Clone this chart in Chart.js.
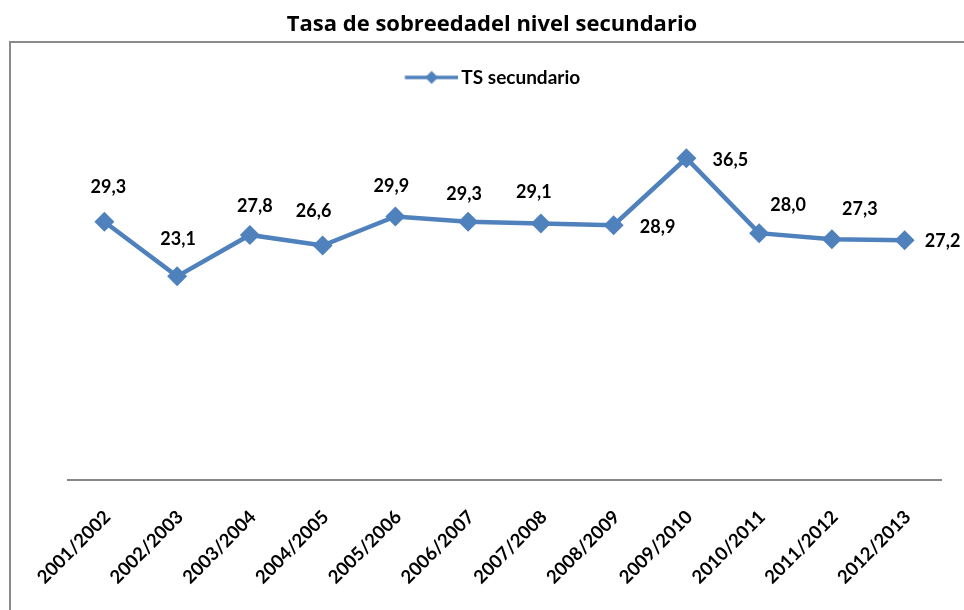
<!DOCTYPE html>
<html>
<head>
<meta charset="utf-8">
<script src="https://cdn.jsdelivr.net/npm/chart.js@4/dist/chart.umd.min.js"></script>
<style>
  html, body { margin: 0; padding: 0; background: #fff; }
  #wrap { width: 964px; height: 610px; position: relative; }
</style>
</head>
<body>
<div id="wrap"><canvas id="c" width="964" height="610"></canvas></div>
<script>
const chartTitle = 'Tasa de sobreedadel nivel secundario';
const seriesName = 'TS secundario';
const categories = ['2001/2002', '2002/2003', '2003/2004', '2004/2005', '2005/2006', '2006/2007',
                    '2007/2008', '2008/2009', '2009/2010', '2010/2011', '2011/2012', '2012/2013'];
const tsSecundario = [29.3, 23.1, 27.8, 26.6, 29.9, 29.3, 29.1, 28.9, 36.5, 28.0, 27.3, 27.2];

const BLUE = '#4F81BD';
const FONT = 'Lato, "Open Sans", sans-serif';
const TITLE_FONT = '"Open Sans", Lato, sans-serif';

// label placement (dx, dy) relative to each point, as in the original
const labelShift = [[4,-35],[1,-37],[5,-29],[-9,-34],[-4,-30],[-4,-28],[-7,-31],[44,2],[44,2],[29,-28],[28,-30],[38,1]];

// legend symbol: line with diamond marker
function legendSymbol() {
  const c = document.createElement('canvas');
  c.width = 61; c.height = 16;
  const g = c.getContext('2d');
  g.strokeStyle = BLUE; g.lineWidth = 3.5;
  g.beginPath(); g.moveTo(7.5, 8); g.lineTo(61, 8); g.stroke();
  const cx = 34.25, cy = 8, r = 6.5;
  g.fillStyle = BLUE;
  g.beginPath(); g.moveTo(cx, cy - r); g.lineTo(cx + r, cy); g.lineTo(cx, cy + r); g.lineTo(cx - r, cy); g.closePath(); g.fill();
  return c;
}
const symbol = legendSymbol();

const framePlugin = {
  id: 'frame',
  beforeDraw(chart) {
    const ctx = chart.ctx;
    ctx.save();
    ctx.strokeStyle = '#8a8a8a';
    ctx.lineWidth = 2;
    ctx.beginPath();
    ctx.moveTo(10, 612); ctx.lineTo(10, 42); ctx.lineTo(966, 42);
    ctx.stroke();
    ctx.restore();
  }
};

const valueLabels = {
  id: 'valueLabels',
  afterDatasetsDraw(chart) {
    const ctx = chart.ctx;
    const meta = chart.getDatasetMeta(0);
    const data = chart.data.datasets[0].data;
    ctx.save();
    ctx.font = 'bold 18px ' + FONT;
    ctx.fillStyle = '#000';
    ctx.textAlign = 'center';
    ctx.textBaseline = 'middle';
    meta.data.forEach((pt, i) => {
      const s = labelShift[i] || [0, -30];
      ctx.fillText(data[i].toFixed(1).replace('.', ','), pt.x + s[0], pt.y + s[1]);
    });
    ctx.restore();
  }
};

new Chart(document.getElementById('c'), {
  type: 'line',
  data: {
    labels: categories,
    datasets: [{
      label: seriesName,
      data: tsSecundario,
      borderColor: BLUE,
      backgroundColor: BLUE,
      borderWidth: 4.5,
      pointStyle: 'rectRot',
      pointRadius: 10,
      pointHoverRadius: 10,
      pointBorderWidth: 0,
      pointBackgroundColor: BLUE,
      tension: 0,
      fill: false
    }]
  },
  options: {
    responsive: false,
    animation: false,
    events: [],
    layout: { padding: { left: 20, right: 0, top: 0, bottom: 0 } },
    plugins: {
      title: {
        display: true,
        text: chartTitle,
        color: '#000',
        font: { family: TITLE_FONT, size: 22, weight: 'bold', lineHeight: 1.2 },
        padding: { top: 12, bottom: 10 }
      },
      legend: {
        display: true,
        position: 'top',
        labels: {
          color: '#000',
          font: { family: FONT, size: 19, weight: 'bold' },
          usePointStyle: true,
          pointStyleWidth: 48,
          padding: 19.5,
          generateLabels: (chart) => [{
            text: seriesName,
            pointStyle: symbol,
            fillStyle: BLUE,
            strokeStyle: BLUE,
            lineWidth: 0,
            datasetIndex: 0,
            hidden: false
          }]
        }
      },
      tooltip: { enabled: false }
    },
    scales: {
      x: {
        type: 'category',
        offset: true,
        grid: { display: false, drawTicks: false },
        border: { display: true, color: '#878787', width: 2 },
        ticks: {
          color: '#000',
          font: { family: FONT, size: 18.5, weight: 'bold' },
          maxRotation: 45, minRotation: 45,
          padding: 26,
          labelOffset: 3,
          autoSkip: false
        },
        afterFit: (s) => { s.height = 130; }
      },
      xTop: {
        type: 'category',
        position: 'top',
        display: true,
        grid: { display: false, drawTicks: false },
        border: { display: false },
        ticks: { display: false },
        afterFit: (s) => { s.height = 30.5; }
      },
      y: {
        min: 0, max: 40,
        position: 'left',
        grid: { display: false, drawTicks: false },
        border: { display: false },
        ticks: { display: false },
        afterFit: (s) => { s.width = 48; }
      },
      yRight: {
        type: 'linear',
        position: 'right',
        display: true,
        min: 0, max: 40,
        grid: { display: false, drawTicks: false },
        border: { display: false },
        ticks: { display: false },
        afterFit: (s) => { s.width = 23; }
      }
    }
  },
  plugins: [framePlugin, valueLabels]
});
</script>
</body>
</html>
